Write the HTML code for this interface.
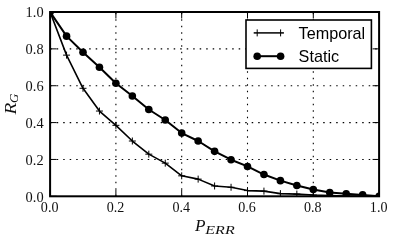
<!DOCTYPE html><html><head><meta charset="utf-8"><style>html,body{margin:0;padding:0;background:#fff}</style></head><body><svg width="399" height="246" viewBox="0 0 399 246" style="display:block;will-change:transform"><rect width="399" height="246" fill="#fff"/><path d="M50.10 159.44H379.10M115.90 196.30V12.00M50.10 122.58H379.10M181.70 196.30V12.00M50.10 85.72H379.10M247.50 196.30V12.00M50.10 48.86H379.10M313.30 196.30V12.00" stroke="#000" stroke-width="1.1" stroke-dasharray="1.5 5" stroke-dashoffset="-0.1" fill="none"/><clipPath id="c"><rect x="50.1" y="12.0" width="329.0" height="184.3"/></clipPath><g clip-path="url(#c)"><polyline points="50.10,12.00 66.55,55.13 83.00,88.30 99.45,111.04 115.90,125.34 132.35,141.01 148.80,154.17 165.25,163.13 181.70,175.84 198.15,179.12 214.60,185.98 231.05,187.27 247.50,190.59 263.95,191.14 280.40,193.61 296.85,194.09 313.30,195.01 329.75,195.56 346.20,195.93 362.65,196.12 379.10,196.30" fill="none" stroke="#000" stroke-width="1.6" stroke-linejoin="round"/><path d="M46.60 12.00h7M50.10 8.50v7M63.05 55.13h7M66.55 51.63v7M79.50 88.30h7M83.00 84.80v7M95.95 111.04h7M99.45 107.54v7M112.40 125.34h7M115.90 121.84v7M128.85 141.01h7M132.35 137.51v7M145.30 154.17h7M148.80 150.67v7M161.75 163.13h7M165.25 159.63v7M178.20 175.84h7M181.70 172.34v7M194.65 179.12h7M198.15 175.62v7M211.10 185.98h7M214.60 182.48v7M227.55 187.27h7M231.05 183.77v7M244.00 190.59h7M247.50 187.09v7M260.45 191.14h7M263.95 187.64v7M276.90 193.61h7M280.40 190.11v7M293.35 194.09h7M296.85 190.59v7M309.80 195.01h7M313.30 191.51v7M326.25 195.56h7M329.75 192.06v7M342.70 195.93h7M346.20 192.43v7M359.15 196.12h7M362.65 192.62v7M375.60 196.30h7M379.10 192.80v7" stroke="#000" stroke-width="1.0" fill="none"/><polyline points="50.10,12.00 66.55,36.14 83.00,52.18 99.45,67.29 115.90,83.32 132.35,96.04 148.80,109.49 165.25,120.00 181.70,133.09 198.15,141.01 214.60,151.33 231.05,159.72 247.50,166.44 263.95,174.55 280.40,180.63 296.85,185.43 313.30,189.48 329.75,192.43 346.20,193.79 362.65,194.90 379.10,196.30" fill="none" stroke="#000" stroke-width="2" stroke-linejoin="round"/><circle cx="50.10" cy="12.00" r="3.8" fill="#000"/><circle cx="66.55" cy="36.14" r="3.8" fill="#000"/><circle cx="83.00" cy="52.18" r="3.8" fill="#000"/><circle cx="99.45" cy="67.29" r="3.8" fill="#000"/><circle cx="115.90" cy="83.32" r="3.8" fill="#000"/><circle cx="132.35" cy="96.04" r="3.8" fill="#000"/><circle cx="148.80" cy="109.49" r="3.8" fill="#000"/><circle cx="165.25" cy="120.00" r="3.8" fill="#000"/><circle cx="181.70" cy="133.09" r="3.8" fill="#000"/><circle cx="198.15" cy="141.01" r="3.8" fill="#000"/><circle cx="214.60" cy="151.33" r="3.8" fill="#000"/><circle cx="231.05" cy="159.72" r="3.8" fill="#000"/><circle cx="247.50" cy="166.44" r="3.8" fill="#000"/><circle cx="263.95" cy="174.55" r="3.8" fill="#000"/><circle cx="280.40" cy="180.63" r="3.8" fill="#000"/><circle cx="296.85" cy="185.43" r="3.8" fill="#000"/><circle cx="313.30" cy="189.48" r="3.8" fill="#000"/><circle cx="329.75" cy="192.43" r="3.8" fill="#000"/><circle cx="346.20" cy="193.79" r="3.8" fill="#000"/><circle cx="362.65" cy="194.90" r="3.8" fill="#000"/><circle cx="379.10" cy="196.30" r="3.8" fill="#000"/></g><path d="M50.10 196.30h6.5M379.10 196.30h-6.5M50.10 196.30v-6.5M50.10 12.00v6.5M50.10 159.44h6.5M379.10 159.44h-6.5M115.90 196.30v-6.5M115.90 12.00v6.5M50.10 122.58h6.5M379.10 122.58h-6.5M181.70 196.30v-6.5M181.70 12.00v6.5M50.10 85.72h6.5M379.10 85.72h-6.5M247.50 196.30v-6.5M247.50 12.00v6.5M50.10 48.86h6.5M379.10 48.86h-6.5M313.30 196.30v-6.5M313.30 12.00v6.5M50.10 12.00h6.5M379.10 12.00h-6.5M379.10 196.30v-6.5M379.10 12.00v6.5" stroke="#000" stroke-width="1.0" fill="none"/><rect x="50.1" y="12.0" width="329.0" height="184.3" fill="none" stroke="#000" stroke-width="2"/><g font-family="Liberation Serif, serif" font-size="14" fill="#111"><text x="49.65" y="212.4" text-anchor="middle" textLength="17.6" lengthAdjust="spacingAndGlyphs">0.0</text><text x="43.6" y="201.50" text-anchor="end" textLength="18" lengthAdjust="spacingAndGlyphs">0.0</text><text x="115.45" y="212.4" text-anchor="middle" textLength="17.6" lengthAdjust="spacingAndGlyphs">0.2</text><text x="43.6" y="164.64" text-anchor="end" textLength="18" lengthAdjust="spacingAndGlyphs">0.2</text><text x="181.25" y="212.4" text-anchor="middle" textLength="17.6" lengthAdjust="spacingAndGlyphs">0.4</text><text x="43.6" y="127.78" text-anchor="end" textLength="18" lengthAdjust="spacingAndGlyphs">0.4</text><text x="247.05" y="212.4" text-anchor="middle" textLength="17.6" lengthAdjust="spacingAndGlyphs">0.6</text><text x="43.6" y="90.92" text-anchor="end" textLength="18" lengthAdjust="spacingAndGlyphs">0.6</text><text x="312.85" y="212.4" text-anchor="middle" textLength="17.6" lengthAdjust="spacingAndGlyphs">0.8</text><text x="43.6" y="54.06" text-anchor="end" textLength="18" lengthAdjust="spacingAndGlyphs">0.8</text><text x="378.65" y="212.4" text-anchor="middle" textLength="17.6" lengthAdjust="spacingAndGlyphs">1.0</text><text x="43.6" y="17.20" text-anchor="end" textLength="18" lengthAdjust="spacingAndGlyphs">1.0</text></g><g font-family="Liberation Serif, serif" font-style="italic" fill="#111"><text x="195.1" y="230.9" font-size="17.2" textLength="10.5" lengthAdjust="spacingAndGlyphs">P</text><text x="205.3" y="233.5" font-size="13.2" textLength="29.4" lengthAdjust="spacingAndGlyphs">ERR</text><g transform="translate(15.5,114.5) rotate(-90)"><text x="0" y="0" font-size="17.4" textLength="11.8" lengthAdjust="spacingAndGlyphs">R</text><text x="11.6" y="2.6" font-size="13.2" textLength="9.3" lengthAdjust="spacingAndGlyphs">G</text></g></g><rect x="246" y="20" width="125.4" height="48.4" fill="#fff" stroke="#000" stroke-width="1.6"/><path d="M253.7 32.9H283.9" stroke="#000" stroke-width="1.5"/><path d="M257.2 29.4v7M280.6 29.4v7" stroke="#000" stroke-width="1.0"/><path d="M257.2 56.2H280.6" stroke="#000" stroke-width="2"/><circle cx="257.2" cy="56.2" r="3.8"/><circle cx="280.6" cy="56.2" r="3.8"/><g font-family="Liberation Sans, sans-serif" font-size="16.2" fill="#000"><text x="298.6" y="38.8">Temporal</text><text x="298.6" y="62.2">Static</text></g></svg></body></html>
